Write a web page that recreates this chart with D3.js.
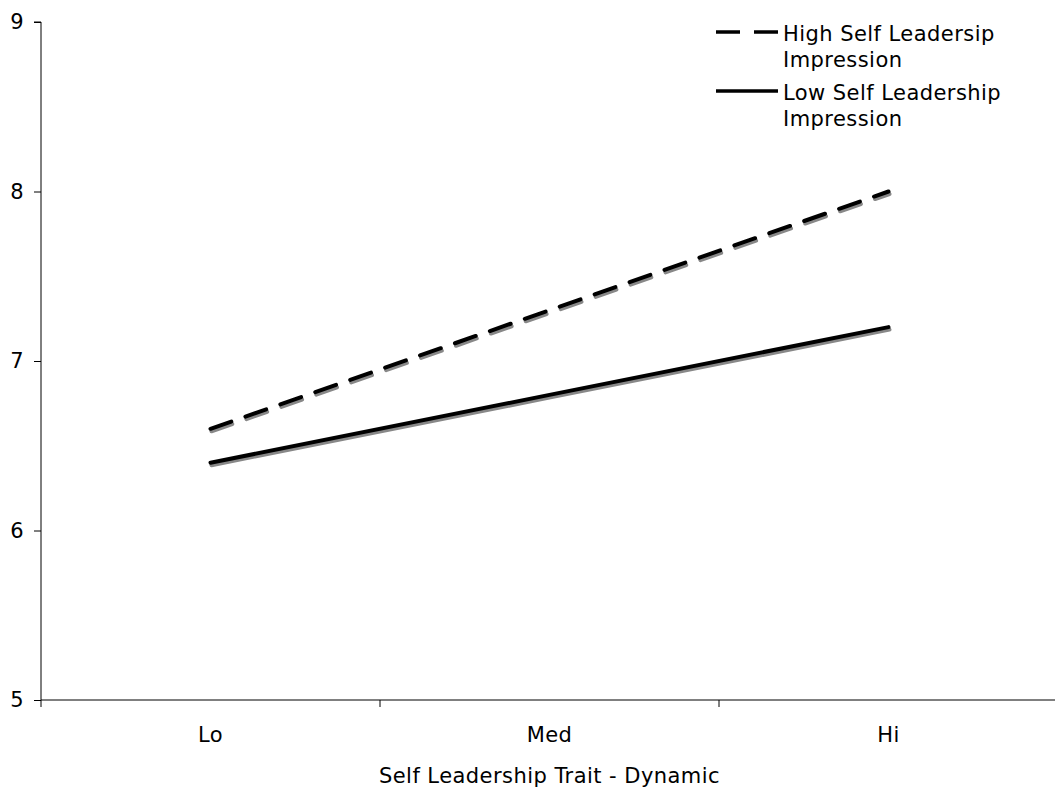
<!DOCTYPE html>
<html><head><meta charset="utf-8">
<script src="https://cdn.jsdelivr.net/npm/d3@7"></script>
<style>body{margin:0;background:#fff}svg{display:block}text{font-family:"DejaVu Sans",Verdana,sans-serif;fill:#000}</style>
</head><body>
<svg id="c" width="1055" height="791"></svg>
<script>
const categories = ["Lo", "Med", "Hi"];
const highSelfImpression = [6.6, 7.3, 8.0];
const lowSelfImpression = [6.4, 6.8, 7.2];
const seriesNames = ["High Self Leadersip\nImpression", "Low Self Leadership\nImpression"];
const yTicks = [5, 6, 7, 8, 9];
const xTitle = "Self Leadership Trait - Dynamic";

(function(){
const svg = d3.select("#c");
const mL = 41, mR = 1058, mT = 22, mB = 700;
const x = d3.scaleBand().domain(categories).range([mL, mR]);
const y = d3.scaleLinear().domain([5, 9]).range([mB, mT]);
const fs = 21, ls = "0.45px";
const ff = '"DejaVu Sans",Verdana,sans-serif';
const styleText = sel => sel.style("font-size", fs + "px").style("font-family", ff).style("letter-spacing", ls).attr("fill", "#000");

const ya = svg.append("g").attr("transform", `translate(${mL},0)`)
  .call(d3.axisLeft(y).tickValues(yTicks).tickFormat(d3.format("d")).tickSize(7).tickPadding(10));
ya.select(".domain").attr("stroke", "#000").attr("d", `M-7,${mT}H0V${mB}`);
ya.selectAll("text").call(styleText);

const xa = svg.append("g").attr("transform", `translate(0,${mB})`)
  .call(d3.axisBottom(x).tickSize(0).tickPadding(26));
xa.select(".domain").attr("stroke", "#000").attr("d", `M${mL},7V0H${mR}`);
xa.selectAll("text").call(styleText).attr("dy", null).attr("y", 42);
xa.selectAll(".bt").data(categories.slice(1)).enter().append("line")
  .attr("x1", d => x(d)).attr("x2", d => x(d)).attr("y1", 0).attr("y2", 7).attr("stroke", "#000");

svg.append("text").attr("x", (mL + mR) / 2).attr("y", 783).attr("text-anchor", "middle")
  .call(styleText).text(xTitle);

const line = d3.line().x((d, i) => x(categories[i]) + x.bandwidth() / 2).y(d => y(d));
const series = [
  {vals: highSelfImpression, dash: "22,15"},
  {vals: lowSelfImpression, dash: null}
];
series.forEach(s => {
  svg.append("path").attr("d", line(s.vals)).attr("fill", "none").attr("stroke", "#888")
    .attr("stroke-width", 4).attr("stroke-linecap", "round").attr("stroke-dasharray", s.dash)
    .attr("transform", "translate(1,2.5)");
  svg.append("path").attr("d", line(s.vals)).attr("fill", "none").attr("stroke", "#000")
    .attr("stroke-width", 4).attr("stroke-linecap", "round").attr("stroke-dasharray", s.dash);
});

const lg = svg.append("g");
const legendY = [32, 91];
seriesNames.forEach((n, i) => {
  lg.append("line").attr("x1", 716).attr("x2", 778).attr("y1", legendY[i]).attr("y2", legendY[i])
    .attr("stroke", "#000").attr("stroke-width", 3.5).attr("stroke-dasharray", i === 0 ? "24,14" : null);
  n.split("\n").forEach((p, j) => {
    lg.append("text").attr("x", 783).attr("y", legendY[i] + 9 + j * 26).call(styleText).text(p);
  });
});
})();
</script>
</body></html>
